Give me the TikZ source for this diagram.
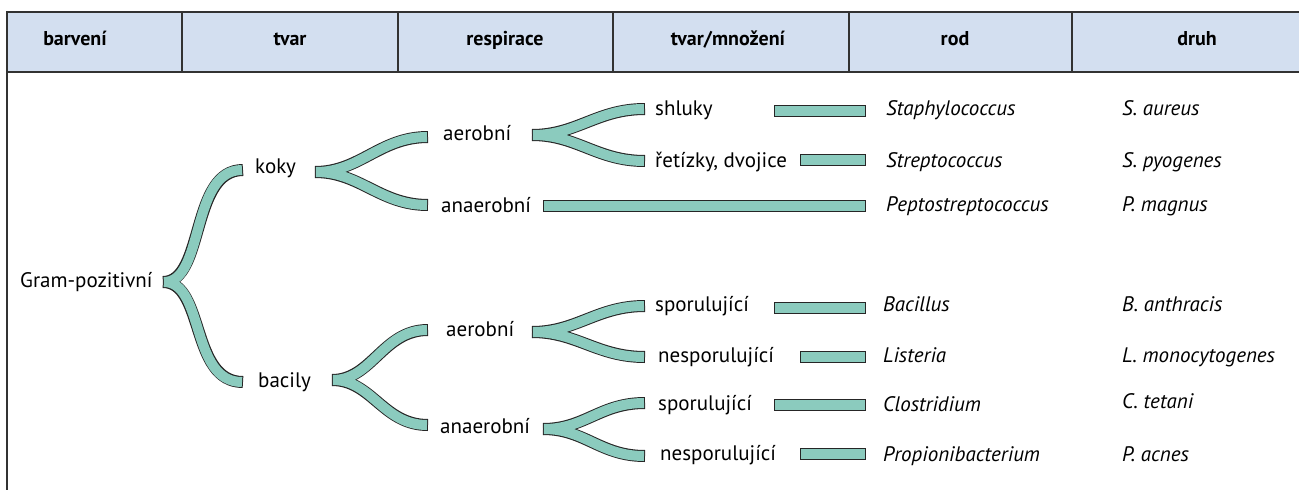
\documentclass[tikz,border=0pt]{standalone}
\usepackage{fontspec}
\setmainfont{PT Sans}
\definecolor{stripfill}{RGB}{139,203,190}
\definecolor{headfill}{RGB}{211,223,240}
\definecolor{linegray}{RGB}{50,50,50}
\begin{document}
\begin{tikzpicture}[x=1pt,y=-1pt,
  txt/.style={anchor=base west, inner sep=0pt, font=\fontsize{21}{25}\selectfont},
  sp/.style={anchor=base west, inner sep=0pt, font=\fontsize{21}{25}\selectfont\itshape},
  hd/.style={anchor=base, inner sep=0pt, font=\fontsize{20}{24}\selectfont\bfseries},
  outerstrip/.style={line width=12pt, draw=black!85},
  innerstrip/.style={line width=10pt, draw=stripfill, shorten <=1pt, shorten >=1pt},
  rule/.style={draw=linegray, line width=1.2pt}]
\useasboundingbox (0,0) rectangle (1299,490);
% header
\fill[headfill] (7,12) rectangle (1299,72);
\draw[rule] (1299,12) -- (7,12) -- (7,490);
\draw[rule] (7,72) -- (1299,72);
\foreach \xx in {182,398,613,849,1072} \draw[rule] (\xx,12) -- (\xx,72);
\node[hd] (h1) at (75,45) {barvení};
\node[hd] (h2) at (290,45) {tvar};
\node[hd] (h3) at (505,45) {respirace};
\node[hd] (h4) at (728,45) {tvar/množení};
\node[hd] (h5) at (955,45) {rod};
\node[hd] (h6) at (1197,45) {druh};
% texts
\node[txt] (gp) at (20,287) {Gram-pozitivní};
\node[txt] (koky) at (255,173) {koky};
\node[txt] (bac) at (258,387) {bacily};
\node[txt] (ka) at (443,140) {aerobní};
\node[txt] (kn) at (441,212) {anaerobní};
\node[txt] (ba) at (446,336) {aerobní};
\node[txt] (bn) at (440,433) {anaerobní};
\node[txt] (t1) at (655,115) {shluky};
\node[txt] (t2) at (655,167) {řetízky, dvojice};
\node[txt] (t3) at (655,311) {sporulující};
\node[txt] (t4) at (658,362) {nesporulující};
\node[txt] (t5) at (658,410) {sporulující};
\node[txt] (t6) at (660,460) {nesporulující};
\node[sp] (r1) at (886,115) {Staphylococcus};
\node[sp] (r2) at (886,167) {Streptococcus};
\node[sp] (r3) at (886,211) {Peptostreptococcus};
\node[sp] (r4) at (883,311) {Bacillus};
\node[sp] (r5) at (883,362) {Listeria};
\node[sp] (r6) at (883,411) {Clostridium};
\node[sp] (r7) at (883,461) {Propionibacterium};
\node[sp] (s1) at (1122,115) {S. aureus};
\node[sp] (s2) at (1122,167) {S. pyogenes};
\node[sp] (s3) at (1122,211) {P. magnus};
\node[sp] (s4) at (1122,311) {B. anthracis};
\node[sp] (s5) at (1122,362) {L. monocytogenes};
\node[sp] (s6) at (1122,408) {C. tetani};
\node[sp] (s7) at (1122,461) {P. acnes};
% strip end points
\coordinate (G0) at (163,282); \coordinate (Gk) at (243,170); \coordinate (Gb) at (243,382);
\coordinate (K0) at (315,172); \coordinate (Ka) at (428,137); \coordinate (Kn) at (428,205);
\coordinate (B0) at (332,380); \coordinate (Ba) at (428,330); \coordinate (Bn) at (428,425);
\coordinate (A0) at (532,135); \coordinate (As) at (645,109); \coordinate (Ar) at (645,161);
\coordinate (C0) at (532,332); \coordinate (Cs) at (645,306); \coordinate (Cn) at (645,357);
\coordinate (D0) at (543,429); \coordinate (Ds) at (645,403); \coordinate (Dn) at (645,456);
\coordinate (b1a) at (774,111); \coordinate (b1b) at (866,111);
\coordinate (b2a) at (800,160); \coordinate (b2b) at (866,160);
\coordinate (b3a) at (543,206); \coordinate (b3b) at (866,206);
\coordinate (b4a) at (774,308); \coordinate (b4b) at (866,308);
\coordinate (b5a) at (800,357); \coordinate (b5b) at (866,357);
\coordinate (b6a) at (774,405); \coordinate (b6b) at (866,405);
\coordinate (b7a) at (800,454); \coordinate (b7b) at (866,454);
\newcommand\allstrips[1]{%
  \draw[#1] (G0) .. controls +(42,0) and +(-53,0) .. (Gk);
  \draw[#1] (G0) .. controls +(42,0) and +(-53,0) .. (Gb);
  \draw[#1] (K0) .. controls +(45,0) and +(-48,0) .. (Ka);
  \draw[#1] (K0) .. controls +(45,0) and +(-48,0) .. (Kn);
  \draw[#1] (B0) .. controls +(40,0) and +(-45,0) .. (Ba);
  \draw[#1] (B0) .. controls +(40,0) and +(-45,0) .. (Bn);
  \draw[#1] (A0) .. controls +(45,0) and +(-48,0) .. (As);
  \draw[#1] (A0) .. controls +(45,0) and +(-48,0) .. (Ar);
  \draw[#1] (C0) .. controls +(45,0) and +(-48,0) .. (Cs);
  \draw[#1] (C0) .. controls +(45,0) and +(-48,0) .. (Cn);
  \draw[#1] (D0) .. controls +(42,0) and +(-45,0) .. (Ds);
  \draw[#1] (D0) .. controls +(42,0) and +(-45,0) .. (Dn);
  \draw[#1] (b1a) -- (b1b);
  \draw[#1] (b2a) -- (b2b);
  \draw[#1] (b3a) -- (b3b);
  \draw[#1] (b4a) -- (b4b);
  \draw[#1] (b5a) -- (b5b);
  \draw[#1] (b6a) -- (b6b);
  \draw[#1] (b7a) -- (b7b);
}
\allstrips{outerstrip}
\allstrips{innerstrip}
\end{tikzpicture}
\end{document}
